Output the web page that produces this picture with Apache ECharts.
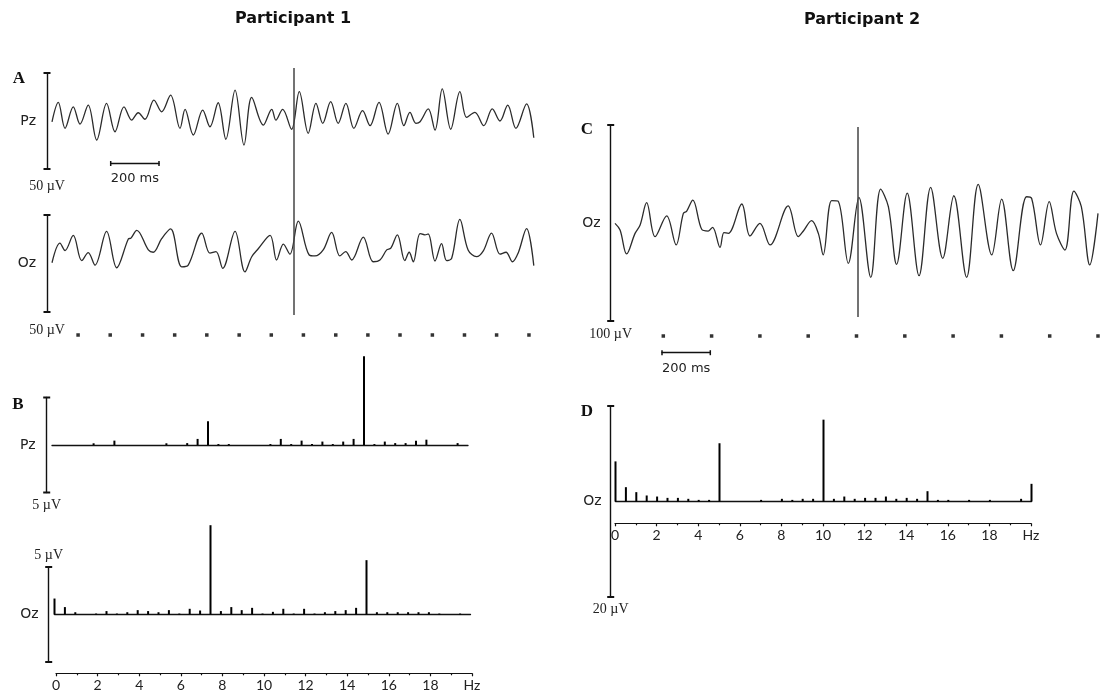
<!DOCTYPE html>
<html><head><meta charset="utf-8">
<script src="https://cdn.jsdelivr.net/npm/echarts@6.0.0/dist/echarts.min.js"></script>
<style>html,body{margin:0;padding:0;background:#fff}#c{width:1104px;height:694px}</style>
</head><body><div id="c"></div>
<script>
// ---------- DATA (time in ms, amplitude in µV, frequency in Hz) ----------
const p1PzTrace = [[0,-0.4],[26,9.7],[54,-3.8],[88,7.4],[116,-1.6],[150,8.3],[185,-9.9],[226,9.2],[261,-5.6],[298,7.4],[330,0.5],[357,4.3],[385,0.9],[422,10.9],[454,4.8],[491,13.5],[530,-3.8],[551,6.1],[585,-7.3],[624,5.7],[654,-3.0],[688,9.5],[720,-9.5],[758,16.1],[795,-12.5],[827,12.3],[875,-2.1],[910,6.1],[927,0.5],[955,6.1],[992,-4.3],[1024,15.3],[1061,-6.4],[1093,9.2],[1121,-1.2],[1154,10.1],[1185,-1.2],[1217,9.2],[1250,-3.8],[1286,5.4],[1317,-2.4],[1354,9.7],[1392,-6.8],[1430,9.2],[1457,-2.4],[1482,4.5],[1507,-1.2],[1524,-0.4],[1558,6.3],[1586,-4.7],[1616,16.7],[1651,-4.3],[1689,15.3],[1717,1.9],[1751,4.5],[1788,-2.4],[1823,6.3],[1855,0],[1887,8.3],[1921,-3.8],[1965,8.9],[1995,-8.7]];
const p1OzTrace = [[0,0.4],[33,10.5],[54,6.7],[88,14.5],[123,1.5],[150,5.6],[178,-0.8],[226,16.6],[268,-2.2],[316,12.6],[327,13.1],[351,17.1],[399,7.0],[419,5.8],[454,12.8],[491,17.8],[537,-1.7],[564,-0.8],[620,15.7],[654,5.3],[679,6.1],[707,-2.5],[758,16.6],[799,-4.3],[827,3.5],[854,7.6],[903,14.5],[930,1.8],[958,10.0],[985,4.8],[1020,21.8],[1065,4.4],[1089,3.9],[1123,7.0],[1158,16.0],[1192,3.9],[1216,6.1],[1241,1.8],[1289,13.6],[1330,0.9],[1358,1.8],[1386,7.0],[1403,7.9],[1430,14.8],[1461,1.5],[1479,5.8],[1496,0.9],[1524,15.4],[1544,14.8],[1558,15.2],[1586,1.3],[1613,10.2],[1634,1.5],[1655,2.7],[1689,22.7],[1723,7.0],[1758,3.5],[1786,6.5],[1820,15.7],[1855,4.8],[1880,5.8],[1907,0.9],[1930,5.3],[1965,18.0],[1995,-1.1]];
const p2OzTrace = [[0,-0.2],[21,-3.6],[48,-15.8],[83,-5.3],[104,-1.0],[131,10.4],[166,-7.0],[214,3.6],[253,-11.2],[283,4.9],[297,6.1],[322,11.7],[359,-3.2],[386,-4.1],[404,-2.2],[435,-12.4],[451,-4.9],[469,-5.3],[525,9.7],[559,-6.6],[600,-0.2],[642,-11.2],[717,8.7],[759,-7.0],[780,-4.1],[814,1.2],[842,-5.3],[862,-16.3],[897,11.4],[923,11.2],[966,-20.6],[1010,13.1],[1059,-27.7],[1100,17.3],[1132,8.3],[1166,-21.1],[1210,15.2],[1259,-26.9],[1307,18.2],[1357,-18.0],[1403,13.9],[1456,-27.7],[1504,19.7],[1560,-16.3],[1601,12.2],[1649,-24.3],[1704,13.4],[1725,12.6],[1762,-11.2],[1798,10.9],[1828,-5.3],[1863,-13.8],[1900,16.3],[1931,8.3],[1966,-21.4],[2000,4.9]];
const p1StimOnset = 1000;
const p2StimOnset = 1006;
const p1FlickerDots = [108,241,375,508,641,775,908,1041,1175,1308,1441,1575,1708,1841,1975];
const p2FlickerDots = [200,400,600,800,1000,1200,1400,1600,1800,2000];
const freqs = [0,0.5,1,1.5,2,2.5,3,3.5,4,4.5,5,5.5,6,6.5,7,7.5,8,8.5,9,9.5,10,10.5,11,11.5,12,12.5,13,13.5,14,14.5,15,15.5,16,16.5,17,17.5,18,18.5,19,19.5,20];
const p1PzSpectrum = [0,0,0,0,0.09,0,0.23,0,0,0,0,0.09,0,0.1,0.32,1.25,0.05,0.05,0,0,0,0.05,0.32,0.05,0.23,0.05,0.18,0.05,0.18,0.32,4.67,0.05,0.18,0.1,0.1,0.23,0.28,0,0,0.1,0];
const p1OzSpectrum = [0.84,0.39,0.12,0,0.05,0.18,0.05,0.12,0.23,0.18,0.12,0.23,0.05,0.3,0.21,4.7,0.18,0.39,0.23,0.35,0.05,0.14,0.3,0.05,0.3,0.05,0.12,0.18,0.23,0.35,2.86,0.12,0.12,0.12,0.12,0.12,0.12,0.05,0,0.05,0];
const p2OzSpectrum = [4.2,1.5,0.98,0.63,0.52,0.38,0.38,0.28,0.17,0.17,6.1,0,0,0,0.17,0,0.28,0.17,0.28,0.28,8.57,0.28,0.52,0.28,0.38,0.38,0.52,0.28,0.38,0.28,1.08,0.17,0.17,0,0.17,0,0.17,0,0,0.28,1.85];
const timeRange = [0, 2000];
const freqRange = [0, 20];
const timeScaleMs = 200;
const hzLabelStep = 2;
const hzEndLabel = 'Hz';

// ---------- OPTION BUILD ----------
const INK = '#111';
const TXT = '#222';
const SANS = 'DejaVu Sans';
const SERIF = 'Liberation Serif';
const grids = [], xAxes = [], yAxes = [], series = [];

function addGrid(g) { grids.push(Object.assign({outerBoundsMode:'none', containLabel:false, show:false}, g)); return grids.length - 1; }
function hiddenAxis(gi, min, max) { return {gridIndex: gi, type: 'value', min, max, show: false}; }

function scaleYAxis(gi, half, label, name, nameLoc, nameGap, offset, labelMargin, labelSize) {
  return {
    gridIndex: gi, type: 'value', min: -half, max: half, interval: half, position: 'left', offset,
    axisLine: {show: true, onZero: false, lineStyle: {color: INK, width: 1.4}, symbol: ['rect','rect'], symbolSize: [7, 2]},
    axisTick: {show: false}, splitLine: {show: false},
    axisLabel: {show: true, margin: labelMargin, color: TXT, fontFamily: SANS, fontSize: labelSize,
      formatter: v => Math.abs(v) < 1e-9 ? label : ''},
    name, nameLocation: nameLoc, nameGap,
    nameTextStyle: {fontFamily: SERIF, fontSize: 14, color: TXT}
  };
}

function addWave(g, trace, half, label, name, offset, labelMargin, nameGap) {
  const gi = addGrid(g);
  xAxes.push(hiddenAxis(gi, timeRange[0], timeRange[1]));
  yAxes.push(scaleYAxis(gi, half, label, name, 'start', nameGap, offset, labelMargin, 14));
  series.push({type: 'line', xAxisIndex: xAxes.length-1, yAxisIndex: yAxes.length-1, data: trace,
    showSymbol: false, smooth: 0.35, clip: false, lineStyle: {color: '#2b2b2b', width: 1.3}, silent: true});
}

function addStim(g, onset) {
  const gi = addGrid(g);
  xAxes.push(hiddenAxis(gi, timeRange[0], timeRange[1]));
  yAxes.push(hiddenAxis(gi, 0, 1));
  series.push({type: 'scatter', xAxisIndex: xAxes.length-1, yAxisIndex: yAxes.length-1, data: [[onset, 0.5]],
    symbolSize: 0, silent: true,
    markLine: {silent: true, symbol: 'none', label: {show: false}, animation: false,
      lineStyle: {color: '#444', width: 1.5, type: 'solid'}, data: [{xAxis: onset}]}});
}

function addDots(g, dots) {
  const gi = addGrid(g);
  xAxes.push(hiddenAxis(gi, timeRange[0], timeRange[1]));
  yAxes.push(hiddenAxis(gi, 0, 1));
  series.push({type: 'scatter', xAxisIndex: xAxes.length-1, yAxisIndex: yAxes.length-1,
    data: dots.map(t => [t, 0.5]), symbol: 'rect', symbolSize: 3.5, itemStyle: {color: '#000'}, silent: true});
}

function addTimeBar(g, gap) {
  const gi = addGrid(g);
  xAxes.push({gridIndex: gi, type: 'value', min: 0, max: timeScaleMs, position: 'bottom',
    axisLine: {show: true, onZero: false, lineStyle: {color: INK, width: 1.3}, symbol: ['rect','rect'], symbolSize: [5, 1.5]},
    axisTick: {show: false}, axisLabel: {show: false}, splitLine: {show: false},
    name: timeScaleMs + ' ms', nameLocation: 'middle', nameGap: gap,
    nameTextStyle: {fontFamily: SANS, fontSize: 13, color: TXT}});
  yAxes.push(hiddenAxis(gi, 0, 1));
}

function addSpectrum(g, amps, half, label, name, nameLoc, nameGap, offset, labelMargin) {
  const gi = addGrid(g);
  xAxes.push({gridIndex: gi, type: 'value', min: freqRange[0], max: freqRange[1],
    axisLine: {show: true, onZero: true, lineStyle: {color: INK, width: 1.3}},
    axisTick: {show: false}, axisLabel: {show: false}, splitLine: {show: false}});
  yAxes.push(scaleYAxis(gi, half, label, name, nameLoc, nameGap, offset, labelMargin, 14));
  series.push({type: 'bar', xAxisIndex: xAxes.length-1, yAxisIndex: yAxes.length-1,
    data: freqs.map((f, i) => [f, amps[i]]), barWidth: 2, clip: false, silent: true,
    itemStyle: {color: '#000'}});
}

function addHzAxis(g) {
  const gi = addGrid(g);
  xAxes.push({gridIndex: gi, type: 'value', min: freqRange[0], max: freqRange[1], interval: hzLabelStep, position: 'bottom',
    axisLine: {show: true, onZero: false, lineStyle: {color: INK, width: 1.2}},
    axisTick: {show: true, length: 3, lineStyle: {color: INK, width: 1.2}},
    minorTick: {show: true, splitNumber: 2, length: 2, lineStyle: {color: INK, width: 1.2}},
    axisLabel: {show: true, margin: 5, color: TXT, fontFamily: 'Lato', fontSize: 14,
      formatter: v => v === freqRange[1] ? hzEndLabel : String(v)},
    splitLine: {show: false}});
  yAxes.push(hiddenAxis(gi, 0, 1));
}

// Participant 1 – panel A
addWave({left: 52, top: 73, width: 483, height: 96}, p1PzTrace, 25, 'Pz', '50 µV', 5, 11, 10);
addWave({left: 52, top: 215, width: 483, height: 97}, p1OzTrace, 25, 'Oz', '50 µV', 5, 11, 11);
addStim({left: 52, top: 68, width: 483, height: 247}, p1StimOnset);
addDots({left: 52, top: 330, width: 483, height: 10}, p1FlickerDots);
addTimeBar({left: 110.7, top: 158, width: 48.3, height: 5.5}, 9);
// Participant 1 – panel B
addSpectrum({left: 52, top: 397.5, width: 416, height: 95}, p1PzSpectrum, 2.5, 'Pz', '5 µV', 'start', 6, 5.3, 11);
addSpectrum({left: 54.5, top: 567, width: 416, height: 95}, p1OzSpectrum, 2.5, 'Oz', '5 µV', 'end', 5, 5.8, 10);
addHzAxis({left: 56, top: 663, width: 416, height: 10.3});
// Participant 2 – panel C
addWave({left: 615, top: 125, width: 483, height: 196}, p2OzTrace, 50, 'Oz', '100 µV', 4.3, 10, 6);
addStim({left: 615, top: 127, width: 483, height: 190}, p2StimOnset);
addDots({left: 615, top: 331, width: 483, height: 10}, p2FlickerDots);
addTimeBar({left: 662, top: 347, width: 48.3, height: 5.7}, 9);
// Participant 2 – panel D
addSpectrum({left: 615.5, top: 406, width: 416, height: 191}, p2OzSpectrum, 10, 'Oz', '20 µV', 'start', 5, 4.8, 9);
addHzAxis({left: 615, top: 513, width: 416, height: 10.3});

function txt(text, x, y, font, color) {
  return {type: 'text', x, y, silent: true,
    style: {text, font, fill: color || '#111', textAlign: 'center', textVerticalAlign: 'middle'}};
}

const option = {
  animation: false,
  backgroundColor: '#fff',
  grid: grids, xAxis: xAxes, yAxis: yAxes, series,
  graphic: [
    txt('Participant 1', 293, 19, 'bold 16px "DejaVu Sans"'),
    txt('Participant 2', 862, 20, 'bold 16px "DejaVu Sans"'),
    txt('A', 19, 79, 'bold 17px "Liberation Serif"'),
    txt('B', 18, 405, 'bold 17px "Liberation Serif"'),
    txt('C', 587, 130, 'bold 17px "Liberation Serif"'),
    txt('D', 587, 412, 'bold 17px "Liberation Serif"')
  ]
};

const chart = echarts.init(document.getElementById('c'), null, {renderer: 'canvas'});
chart.setOption(option);
</script>
</body></html>
